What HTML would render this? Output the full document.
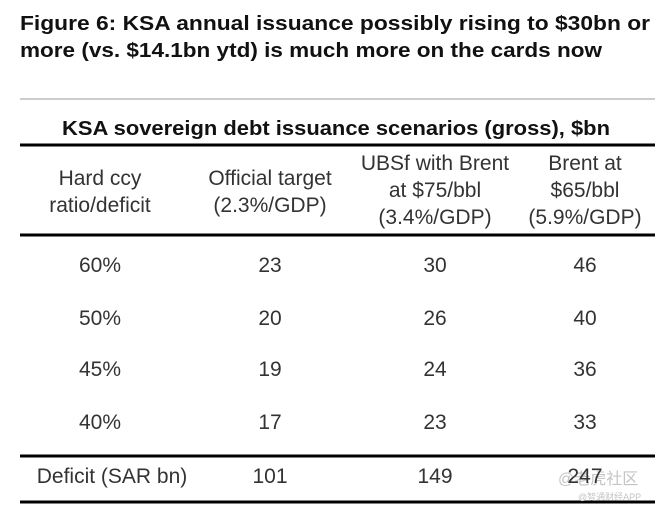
<!DOCTYPE html>
<html><head><meta charset="utf-8"><style>
html,body{margin:0;padding:0;background:#fff;}
svg{display:block;}
.t{font-family:"Liberation Sans",sans-serif;fill:#111;}
</style></head><body>
<svg id="s" width="663" height="517" viewBox="0 0 663 517" xmlns="http://www.w3.org/2000/svg">
<text class="t" x="20" y="30" font-size="20" font-weight="bold" textLength="630" lengthAdjust="spacingAndGlyphs">Figure 6: KSA annual issuance possibly rising to $30bn or</text>
<text class="t" x="20" y="57" font-size="20" font-weight="bold" textLength="582" lengthAdjust="spacingAndGlyphs">more (vs. $14.1bn ytd) is much more on the cards now</text>
<line x1="20" y1="99" x2="655" y2="99" stroke="#ccc" stroke-width="2"/>
<text class="t" x="62" y="135" font-size="20" font-weight="bold" textLength="548" lengthAdjust="spacingAndGlyphs">KSA sovereign debt issuance scenarios (gross), $bn</text>
<line x1="20" y1="145" x2="655" y2="145" stroke="#000" stroke-width="3"/>
<line x1="20" y1="235" x2="655" y2="235" stroke="#000" stroke-width="3"/>
<line x1="20" y1="456" x2="655" y2="456" stroke="#000" stroke-width="3"/>
<line x1="20" y1="502" x2="655" y2="502" stroke="#000" stroke-width="3"/>
<text x="558" y="484" font-size="16" fill="#c4c4c4" font-family="'Liberation Sans','Noto Sans CJK SC',sans-serif">@老虎社区</text>
<text x="578" y="500" font-size="9" fill="#c4c4c4" font-family="'Liberation Sans','Noto Sans CJK SC',sans-serif">@智通财经APP</text>
</svg>
<script>
const colHeaders = [["Hard ccy","ratio/deficit"],["Official target","(2.3%/GDP)"],["UBSf with Brent","at $75/bbl","(3.4%/GDP)"],["Brent at","$65/bbl","(5.9%/GDP)"]];
const rowLabels = ["60%","50%","45%","40%","Deficit (SAR bn)"];
const officialTarget = [23,20,19,17,101];
const ubsfBrent75 = [30,26,24,23,149];
const brent65 = [46,40,36,33,247];

const svg = document.getElementById('s');
const NS = 'http://www.w3.org/2000/svg';
const colX = [100,270,435,585];
const rowY = [272,325,376,429,483];
function txt(x,y,s,name){
  const t = document.createElementNS(NS,'text');
  t.setAttribute('x',x); t.setAttribute('y',y);
  t.setAttribute('class','t'); t.setAttribute('font-size','21');
  t.setAttribute('text-anchor','middle'); t.setAttribute('fill','#333');
  t.style.fill = '#333';
  t.textContent = s;
  
  
  svg.appendChild(t);
}
colHeaders.forEach((lines,c)=>{
  const start = lines.length===2 ? 185 : 170;
  lines.forEach((l,i)=>txt(colX[c], start+i*27, l, 'column-header-'+(c+1)));
});
const series = [rowLabels, officialTarget, ubsfBrent75, brent65];
rowLabels.forEach((_,r)=>{
  series.forEach((arr,c)=>txt(colX[c] + (c===0 && r===4 ? 12 : 0), rowY[r], String(arr[r]), 'cell-r'+(r+1)+'-c'+(c+1)));
});
</script>
</body></html>
